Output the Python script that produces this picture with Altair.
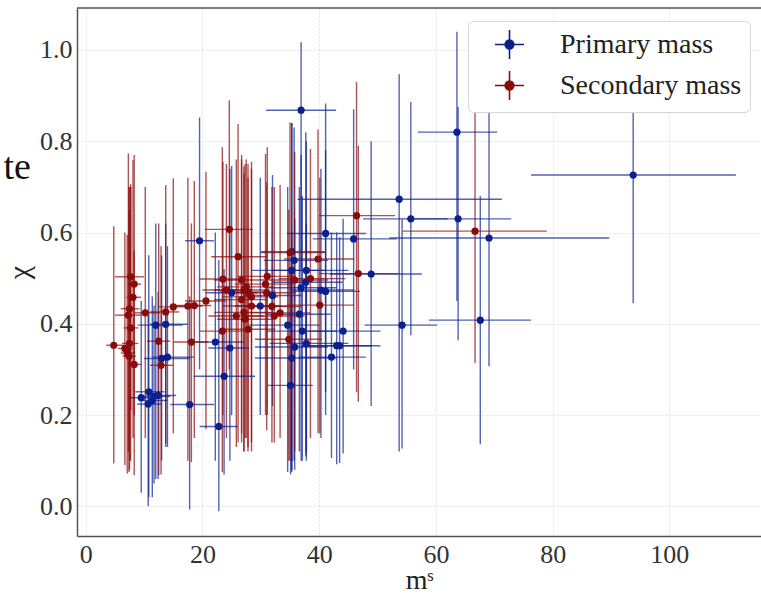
import altair as alt
import pandas as pd

# ---------------- data ----------------
# Primary mass (blue)
p_mass    = [10.8, 9.5, 10.7, 11.4, 11.7, 12.4, 12.0, 13.7, 13.0, 14.0,
             17.8, 19.5, 22.8, 22.2, 24.7, 23.7, 25.0, 29.9, 32.0, 35.3,
             35.7, 35.3, 37.8, 37.7, 36.9, 40.3, 41.1, 41.1, 45.9, 48.9,
             36.6, 34.6, 37.1, 44.1, 37.8, 35.8, 43.0, 43.5, 35.3, 42.1,
             35.1, 36.9, 53.7, 55.7, 63.6, 63.8, 69.1, 67.6, 54.2, 93.8]
p_mass_lo = [8.5, 7.5, 8.8, 9.5, 9.8, 10.5, 8.9, 11.0, 10.0, 11.5,
             14.5, 17.0, 19.5, 17.5, 21.0, 18.5, 20.5, 25.5, 27.0, 30.0,
             30.5, 28.5, 32.0, 32.0, 31.0, 35.0, 35.5, 34.5, 38.9, 41.8,
             31.0, 28.0, 31.0, 38.0, 31.5, 29.0, 37.0, 37.0, 29.0, 36.5,
             31.2, 30.9, 36.3, 47.5, 56.9, 55.0, 52.0, 58.8, 47.8, 76.3]
p_mass_hi = [13.5, 11.5, 13.0, 14.0, 14.5, 15.5, 16.6, 17.5, 17.8, 18.5,
             22.0, 22.0, 26.0, 27.0, 28.0, 29.0, 29.5, 34.5, 37.0, 41.0,
             41.5, 41.0, 45.0, 44.0, 43.0, 46.0, 47.0, 48.0, 53.3, 57.6,
             42.0, 40.0, 43.0, 50.5, 45.0, 41.5, 49.0, 50.5, 43.0, 48.0,
             38.9, 42.9, 71.3, 62.0, 70.5, 72.9, 89.7, 76.3, 60.2, 111.4]
p_chi     = [0.251, 0.238, 0.224, 0.232, 0.241, 0.243, 0.397, 0.399, 0.324, 0.327,
             0.223, 0.582, 0.175, 0.360, 0.347, 0.285, 0.468, 0.439, 0.462, 0.558,
             0.539, 0.517, 0.517, 0.491, 0.479, 0.474, 0.471, 0.598, 0.586, 0.509,
             0.421, 0.397, 0.384, 0.384, 0.357, 0.349, 0.352, 0.352, 0.325, 0.327,
             0.265, 0.868, 0.673, 0.630, 0.820, 0.630, 0.588, 0.408, 0.397, 0.726]
p_chi_lo  = [0.02, 0.03, 0.00, 0.02, 0.05, 0.06, 0.06, 0.13, 0.10, 0.13,
             -0.007, 0.30, -0.011, 0.10, 0.10, 0.07, 0.20, 0.20, 0.22, 0.08,
             0.10, 0.10, 0.12, 0.11, 0.10, 0.15, 0.20, 0.25, 0.30, 0.22,
             0.12, 0.075, 0.10, 0.116, 0.10, 0.08, 0.092, 0.095, 0.075, 0.106,
             0.07, 0.52, 0.12, 0.375, 0.45, 0.364, 0.307, 0.136, 0.127, 0.445]
p_chi_hi  = [0.55, 0.45, 0.42, 0.46, 0.44, 0.47, 0.62, 0.62, 0.55, 0.57,
             0.46, 0.852, 0.54, 0.60, 0.74, 0.52, 0.746, 0.72, 0.726, 0.84,
             0.83, 0.84, 0.80, 0.82, 0.77, 0.74, 0.78, 0.883, 0.87, 0.80,
             0.70, 0.70, 0.68, 0.63, 0.62, 0.63, 0.60, 0.59, 0.60, 0.60,
             0.52, 1.017, 0.947, 0.886, 1.04, 0.875, 0.864, 0.68, 0.63, 1.0]

# Secondary mass (red)
s_mass    = [4.8, 6.7, 7.1, 7.4, 7.5, 8.3, 7.7, 7.3, 7.5, 8.1,
             8.3, 7.7, 10.2, 12.5, 12.9, 13.7, 15.0, 17.5, 18.6, 18.1,
             20.6, 23.4, 23.5, 24.1, 24.6, 26.1, 26.7, 27.5, 27.8, 27.1,
             26.7, 28.4, 28.4, 27.1, 25.8, 27.3, 27.8, 31.1, 30.8, 31.0,
             31.9, 32.3, 33.3, 35.0, 35.8, 38.5, 39.8, 40.1, 34.8, 46.4,
             46.7, 66.7]
s_mass_lo = [3.5, 5.5, 6.0, 6.3, 6.2, 7.3, 6.5, 5.0, 6.0, 7.0,
             7.2, 5.0, 8.4, 10.5, 11.0, 11.0, 12.5, 14.5, 15.5, 15.0,
             17.0, 19.5, 19.5, 20.0, 20.4, 21.5, 22.0, 22.5, 23.0, 22.0,
             22.0, 23.5, 23.5, 22.0, 21.0, 22.5, 23.0, 26.0, 25.5, 26.0,
             27.0, 27.5, 28.0, 30.0, 31.0, 33.0, 34.0, 34.5, 29.0, 40.0,
             40.0, 54.3]
s_mass_hi = [6.5, 8.0, 8.5, 8.6, 9.0, 9.5, 9.0, 9.5, 9.2, 9.5,
             9.5, 10.0, 12.7, 14.5, 15.0, 16.0, 19.0, 20.0, 21.5, 21.0,
             24.0, 27.5, 27.5, 28.5, 28.6, 31.0, 31.0, 32.0, 32.5, 31.5,
             31.0, 33.0, 33.5, 32.0, 30.5, 32.0, 32.5, 36.0, 35.5, 36.0,
             37.0, 37.5, 38.5, 41.0, 41.5, 44.5, 46.0, 46.0, 40.5, 53.0,
             53.5, 79.0]
s_chi     = [0.353, 0.346, 0.336, 0.329, 0.357, 0.311, 0.391, 0.419, 0.433, 0.458,
             0.487, 0.503, 0.424, 0.362, 0.309, 0.426, 0.437, 0.439, 0.440, 0.360,
             0.450, 0.384, 0.498, 0.474, 0.607, 0.547, 0.496, 0.481, 0.470, 0.474,
             0.453, 0.459, 0.439, 0.425, 0.417, 0.410, 0.388, 0.504, 0.487, 0.468,
             0.438, 0.417, 0.424, 0.556, 0.496, 0.499, 0.542, 0.441, 0.366, 0.637,
             0.510, 0.603]
s_chi_lo  = [0.094, 0.09, 0.072, 0.075, 0.08, 0.068, 0.10, 0.12, 0.10, 0.15,
             0.20, 0.21, 0.15, 0.068, 0.07, 0.138, 0.16, 0.10, 0.15, 0.097,
             0.169, 0.075, 0.20, 0.15, 0.30, 0.14, 0.16, 0.15, 0.13, 0.12,
             0.14, 0.12, 0.14, 0.12, 0.13, 0.15, 0.12, 0.20, 0.20, 0.167,
             0.14, 0.14, 0.15, 0.10, 0.12, 0.15, 0.16, 0.16, 0.10, 0.25,
             0.229, 0.314]
s_chi_hi  = [0.614, 0.60, 0.595, 0.70, 0.65, 0.56, 0.706, 0.773, 0.70, 0.759,
             0.77, 0.70, 0.70, 0.62, 0.57, 0.704, 0.719, 0.72, 0.713, 0.62,
             0.733, 0.787, 0.755, 0.75, 0.89, 0.838, 0.77, 0.76, 0.75, 0.745,
             0.76, 0.755, 0.74, 0.73, 0.76, 0.75, 0.72, 0.787, 0.772, 0.71,
             0.70, 0.70, 0.704, 0.841, 0.777, 0.783, 0.826, 0.72, 0.65, 0.93,
             0.79, 0.895]

series_names = ["Primary mass", "Secondary mass"]
series_colors = ["#0a2090", "#8b0a0a"]

x_ticks = [0, 20, 40, 60, 80, 100]
y_ticks = [0.0, 0.2, 0.4, 0.6, 0.8, 1.0]

# ---------------- table ----------------
df = pd.concat([
    pd.DataFrame({"series": series_names[0], "m": p_mass, "m_lo": p_mass_lo, "m_hi": p_mass_hi,
                  "chi": p_chi, "chi_lo": p_chi_lo, "chi_hi": p_chi_hi}),
    pd.DataFrame({"series": series_names[1], "m": s_mass, "m_lo": s_mass_lo, "m_hi": s_mass_hi,
                  "chi": s_chi, "chi_lo": s_chi_lo, "chi_hi": s_chi_hi}),
], ignore_index=True)

SERIF = "Liberation Serif"
W, H = 684, 528
xs = alt.Scale(domain=[-1.5, 115.7], nice=False, zero=False)
ys = alt.Scale(domain=[-0.065, 1.092], nice=False, zero=False)
cs = alt.Scale(domain=series_names, range=series_colors)

xaxis = alt.Axis(values=x_ticks, format="d", labelFont=SERIF, labelFontSize=26,
                 titleFont=SERIF, titleFontSize=28, titlePadding=-1)
yaxis = alt.Axis(values=y_ticks, format=".1f", labelFont=SERIF, labelFontSize=26,
                 titleFont=SERIF, titleFontSize=30, titlePadding=5)

cross_path = ("M-1,0H1M0,-1V1"
              "M-0.3,0A0.3,0.3,0,1,1,0.3,0A0.3,0.3,0,1,1,-0.3,0"
              "M-0.2,0A0.2,0.2,0,1,1,0.2,0A0.2,0.2,0,1,1,-0.2,0"
              "M-0.1,0A0.1,0.1,0,1,1,0.1,0A0.1,0.1,0,1,1,-0.1,0")

legend = alt.Legend(
    title=None, orient="none", legendX=391, legendY=13,
    symbolType=cross_path, symbolSize=841, symbolStrokeWidth=1.6, symbolOpacity=1,
    symbolOffset=18, labelOffset=35, padding=8, rowPadding=4,
    labelFont=SERIF, labelFontSize=28, labelColor="#222", labelLimit=400,
    fillColor="white", strokeColor="#d6d6d6", cornerRadius=5,
)

base = alt.Chart(df)

vbar = base.mark_rule(strokeWidth=1.4, opacity=0.7, clip=True).encode(
    x=alt.X("m:Q", scale=xs, axis=xaxis, title="mˢ"),
    y=alt.Y("chi_lo:Q", scale=ys, axis=yaxis, title="χ"),
    y2="chi_hi:Q",
    color=alt.Color("series:N", scale=cs, legend=legend),
)
hbar = base.mark_rule(strokeWidth=1.4, opacity=0.7, clip=True).encode(
    x=alt.X("m_lo:Q", scale=xs, axis=xaxis, title="mˢ"),
    x2="m_hi:Q",
    y=alt.Y("chi:Q", scale=ys, axis=yaxis, title="χ"),
    color=alt.Color("series:N", scale=cs, legend=legend),
)
dots = base.mark_circle(size=52, opacity=1).encode(
    x=alt.X("m:Q", scale=xs, axis=xaxis, title="mˢ"),
    y=alt.Y("chi:Q", scale=ys, axis=yaxis, title="χ"),
    color=alt.Color("series:N", scale=cs, legend=None),
)
top_border = alt.Chart(pd.DataFrame({"b": [0]})).mark_rule(color="#555", strokeWidth=1.5).encode(
    x=alt.value(0), x2=alt.value(W), y=alt.value(0)
)
stray = alt.Chart(pd.DataFrame({"t": ["te"]})).mark_text(
    font=SERIF, fontSize=38, align="right", baseline="alphabetic", color="#111"
).encode(text="t:N", x=alt.value(-46), y=alt.value(171))

chart = alt.layer(vbar, hbar, dots, top_border, stray).properties(
    width=W, height=H, autosize="none",
    padding={"left": 77, "top": 8, "right": 0, "bottom": 59},
).configure_view(stroke=None).configure_axis(
    labelFont=SERIF, labelFontSize=26, labelColor="#333", labelPadding=5,
    titleFont=SERIF, titleFontWeight="normal", titleColor="#222",
    grid=True, gridColor="#e2e2e2", gridDash=[2, 2], gridWidth=1,
    domainColor="#555", domainWidth=1.5, ticks=False,
)

chart.save("out.html", embed_options={"renderer": "svg", "actions": False})
